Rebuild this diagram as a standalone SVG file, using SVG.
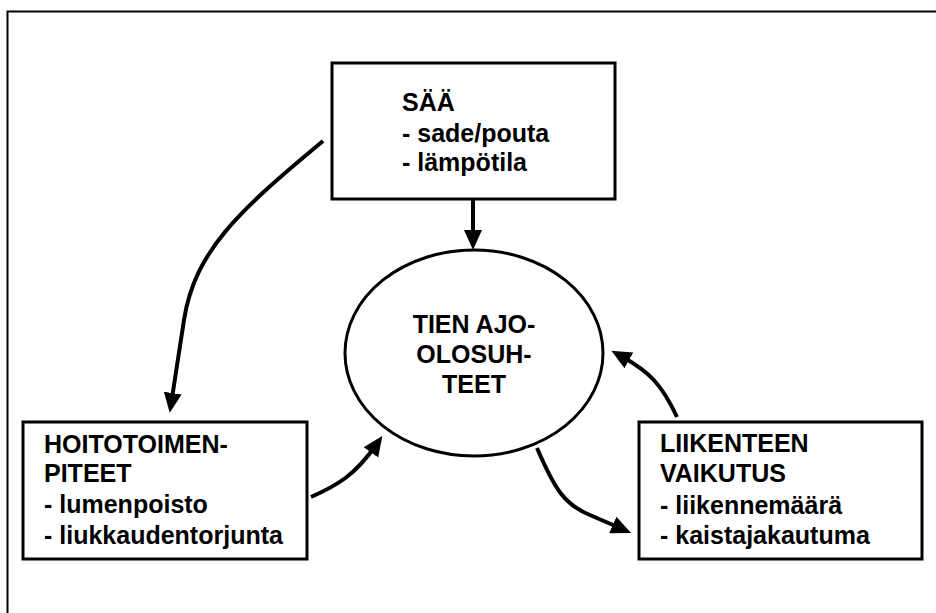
<svg xmlns="http://www.w3.org/2000/svg" width="936" height="613" viewBox="0 0 936 613">
<style>
.box{fill:#fff;stroke:#000;stroke-width:3}
.t{font-family:"Liberation Sans",Arial,sans-serif;font-weight:bold;font-size:25px;fill:#000}
.c{fill:none;stroke:#000;stroke-width:4}
</style>
<defs>
<marker id="ah" markerWidth="20" markerHeight="18" refX="9" refY="9" orient="auto" markerUnits="userSpaceOnUse">
<path d="M0,0 L20,9 L0,18 Z" fill="#000"/>
</marker>
</defs>
<rect x="0" y="0" width="936" height="613" fill="#fff"/>
<path d="M7.5,613 L7.5,11.5 L936,11.5" fill="none" stroke="#000" stroke-width="2"/>
<g id="saa">
<rect class="box" x="332" y="63" width="283" height="136"/>
<text class="t" x="402" y="111">SÄÄ</text>
<text class="t" x="402" y="142">- sade/pouta</text>
<text class="t" x="402" y="171">- lämpötila</text>
</g>
<g id="tie">
<ellipse cx="474" cy="353" rx="129" ry="103" fill="#fff" stroke="#000" stroke-width="3"/>
<text class="t" x="474" y="333" text-anchor="middle">TIEN AJO-</text>
<text class="t" x="474" y="363" text-anchor="middle">OLOSUH-</text>
<text class="t" x="474" y="393" text-anchor="middle">TEET</text>
</g>
<g id="hoito">
<rect class="box" x="23" y="422" width="284" height="137"/>
<text class="t" x="44" y="453">HOITOTOIMEN-</text>
<text class="t" x="44" y="482">PITEET</text>
<text class="t" x="44" y="513">- lumenpoisto</text>
<text class="t" x="44" y="544">- liukkaudentorjunta</text>
</g>
<g id="liikenne">
<rect class="box" x="639" y="422" width="283" height="137"/>
<text class="t" x="660" y="452">LIIKENTEEN</text>
<text class="t" x="660" y="482">VAIKUTUS</text>
<text class="t" x="660" y="514">- liikennemäärä</text>
<text class="t" x="660" y="544">- kaistajakautuma</text>
</g>
<g id="connectors">
<path class="c" d="M473,200 L473,239" stroke-width="5" marker-end="url(#ah)"/>
<path class="c" d="M323,141 C240,210 195,250 184,320 L171.4,402" marker-end="url(#ah)"/>
<path class="c" d="M311,497 C338,485 355,475 376,445" marker-end="url(#ah)"/>
<path class="c" d="M537,448 C555,490 565,505 590,515 L621,528.5" marker-end="url(#ah)"/>
<path class="c" d="M677,417 C662,385 650,372 621,356" marker-end="url(#ah)"/>
</g>
</svg>
